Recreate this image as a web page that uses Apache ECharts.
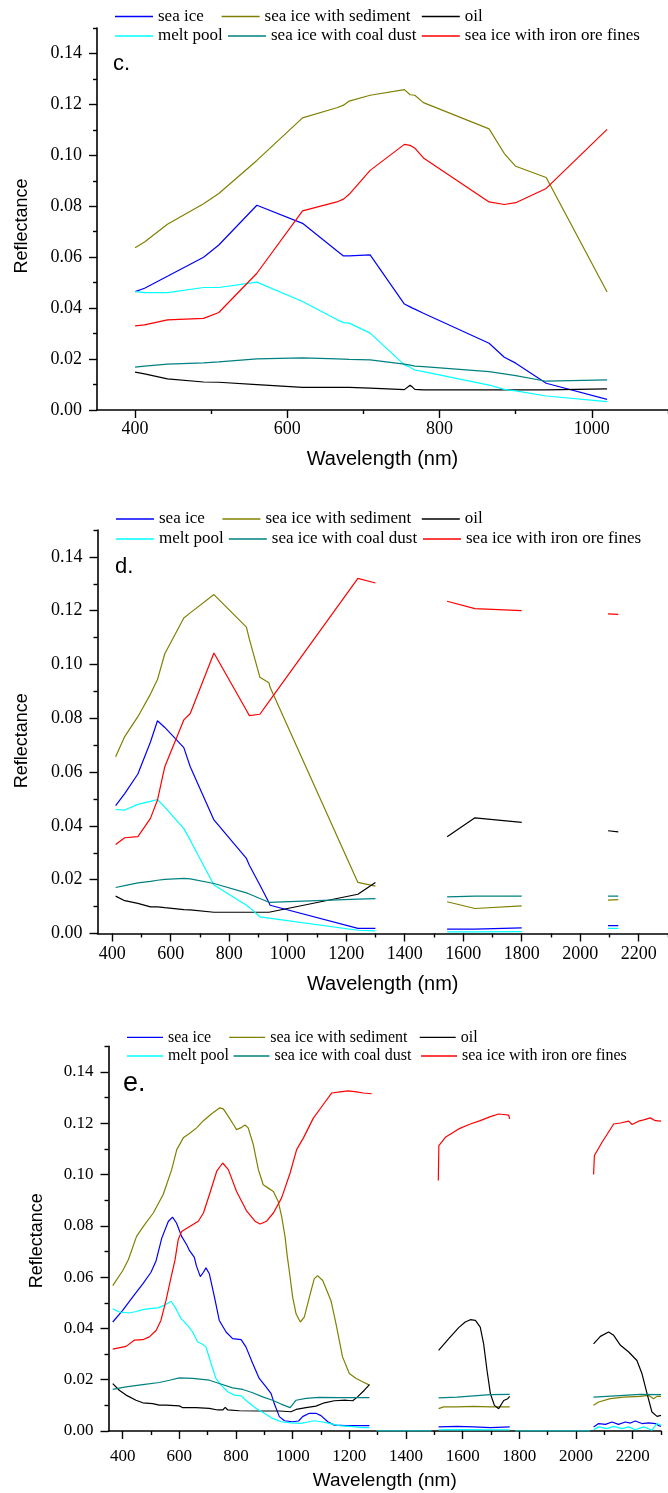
<!DOCTYPE html>
<html><head><meta charset="utf-8">
<script src="https://cdn.jsdelivr.net/npm/echarts@6/dist/echarts.min.js"></script>
<style>html,body{margin:0;padding:0;background:#fff}#c{width:668px;height:1493px}</style>
</head><body><div id="c"></div>
<script>
const seriesNames = ['sea ice','sea ice with sediment','oil','melt pool','sea ice with coal dust','sea ice with iron ore fines'];
const seriesColors = ['#0000ff','#808000','#000000','#00ffff','#008080','#ff0000'];

// ---- axis ticks ----
const yMajor = [0,0.02,0.04,0.06,0.08,0.10,0.12,0.14];
const yMinor = [0.01,0.03,0.05,0.07,0.09,0.11,0.13,0.15];
const cXMajor = [400,600,800,1000];
const cXMinor = [500,700,900,1100];
const dXMajor = [400,600,800,1000,1200,1400,1600,1800,2000,2200];
const dXMinor = [500,700,900,1100,1300,1500,1700,1900,2100,2300];

// ---- panel c ----
const cWave = [400,412.5,442.5,490,510,560,620,665,673.75,681.25,708.75,753.75,761.25,764.375,767.5,778.75,865,885,900,940,1020];
const cSeaIce = [0.0465,0.0478,0.0525,0.0600,0.0648,0.0804,0.0733,0.0625,0.0605,0.0605,0.0609,0.0416,0.0405,0.0400,0.0396,0.0380,0.0262,0.0207,0.0184,0.0105,0.0042];
const cSediment = [0.0637,0.0660,0.0729,0.0810,0.0850,0.0980,0.1147,0.1187,0.1197,0.1213,0.1236,0.1258,0.1238,0.1237,0.1236,0.1207,0.1104,0.1007,0.0957,0.0913,0.0463];
const cOil = [0.0149,0.0142,0.0122,0.0110,0.0109,0.0100,0.0089,0.0089,0.0089,0.0089,0.0086,0.0080,0.0097,0.0090,0.0081,0.0079,0.0079,0.0079,0.0079,0.0079,0.0083];
const cMeltPool = [0.0465,0.0461,0.0461,0.0481,0.0481,0.0502,0.0426,0.0355,0.0343,0.0341,0.0302,0.0177,0.0168,0.0162,0.0157,0.0151,0.0098,0.0081,0.0075,0.0055,0.0033];
const cCoal = [0.0168,0.0172,0.0180,0.0185,0.0189,0.0201,0.0205,0.0201,0.0200,0.0199,0.0197,0.0180,0.0176,0.0174,0.0172,0.0170,0.0151,0.0142,0.0135,0.0113,0.0118];
const cIron = [0.0330,0.0334,0.0354,0.0360,0.0383,0.0537,0.0782,0.0817,0.0828,0.0847,0.0941,0.1043,0.1039,0.1034,0.1028,0.0990,0.0817,0.0807,0.0814,0.0870,0.1102];

// ---- panel d (null = gap) ----
const dWave = [412,443,488,531,555,580,645,667,748,859,869,905,936,940,1240,1300,1420,1545,1640,1800,1950,2095,2130];
const dSeaIce = [0.0475,0.0520,0.0593,0.0712,0.0791,0.0766,0.0691,0.0620,0.0422,0.0279,0.0254,0.0180,0.0115,0.0105,0.0019,0.0019,null,0.0016,0.0016,0.0021,null,0.0029,0.0029];
const dSediment = [0.0657,0.0732,0.0806,0.0890,0.0944,0.1040,0.1173,0.1192,0.1260,0.1139,0.1094,0.0953,0.0932,0.0915,0.0190,0.0176,null,0.0118,0.0093,0.0103,null,0.0124,0.0126];
const dOil = [0.0139,0.0122,0.0112,0.0099,0.0099,0.0096,0.0089,0.0088,0.0079,0.0079,0.0079,0.0079,0.0079,0.0079,0.0146,0.0190,null,0.0360,0.0430,0.0413,null,0.0382,0.0378];
const dMeltPool = [0.0461,0.0459,0.0480,0.0491,0.0498,0.0470,0.0390,0.0347,0.0180,0.0105,0.0097,0.0062,0.0057,0.0056,0.0012,0.0010,null,0.0006,0.0006,0.0007,null,0.0019,0.0019];
const dCoal = [0.0171,0.0178,0.0188,0.0194,0.0198,0.0201,0.0205,0.0203,0.0186,0.0151,0.0147,0.0130,0.0116,0.0114,0.0128,0.0130,null,0.0136,0.0139,0.0139,null,0.0139,0.0139];
const dIron = [0.0331,0.0356,0.0360,0.0428,0.0496,0.0620,0.0794,0.0818,0.1043,0.0830,0.0810,0.0815,0.0862,0.0868,0.1320,0.1303,null,0.1235,0.1208,0.1200,null,0.1188,0.1186];

// ---- panel e ([wavelength, reflectance], null = gap) ----
const eSeaIce = [[365,0.0425],[400,0.047],[435,0.0522],[471,0.0574],[500,0.0619],[518,0.0664],[538,0.0752],[561,0.0817],[576,0.0834],[590,0.0811],[608,0.0759],[626,0.0726],[636,0.0703],[653,0.0677],[660,0.0645],[674,0.0602],[685,0.0619],[694,0.0636],[706,0.0613],[724,0.0522],[741,0.0431],[765,0.0386],[788,0.036],[818,0.0356],[835,0.0328],[859,0.0263],[882,0.0205],[906,0.0172],[924,0.0146],[935,0.0107],[953,0.0056],[971,0.004],[1000,0.0036],[1021,0.0039],[1035,0.0056],[1059,0.0069],[1082,0.0069],[1100,0.006],[1124,0.0036],[1147,0.0023],[1188,0.0021],[1235,0.0021],[1271,0.0021],
 [1400,null],[1515,0.0016],[1580,0.0018],[1639,0.0016],[1698,0.0013],[1766,0.0016],
 [1900,null],[2062,0.0016],[2080,0.0029],[2104,0.0026],[2127,0.0035],[2150,0.0026],[2174,0.0035],[2192,0.0031],[2209,0.0039],[2233,0.0029],[2256,0.0032],[2280,0.0029],[2290,0.0022],[2300,0.0018]];
const eSediment = [[365,0.0567],[400,0.0625],[420,0.0668],[449,0.0759],[473,0.0798],[508,0.085],[543,0.0922],[573,0.1019],[591,0.1097],[614,0.1143],[638,0.1162],[661,0.1182],[685,0.121],[714,0.1237],[743,0.126],[755,0.1256],[773,0.1227],[791,0.1195],[802,0.1175],[820,0.1184],[832,0.1193],[843,0.1182],[861,0.1117],[879,0.1019],[896,0.096],[914,0.0947],[932,0.0934],[949,0.0895],[961,0.0837],[973,0.0759],[981,0.0681],[988,0.0625],[1000,0.0522],[1012,0.0457],[1027,0.0425],[1041,0.0444],[1059,0.0522],[1076,0.0593],[1088,0.0606],[1106,0.0587],[1135,0.0509],[1153,0.0418],[1176,0.0289],[1200,0.0224],[1224,0.0205],[1247,0.0192],[1271,0.0179],
 [1400,null],[1515,0.0087],[1533,0.0094],[1580,0.0094],[1639,0.0096],[1698,0.0094],[1766,0.0094],
 [1900,null],[2062,0.01],[2080,0.0113],[2121,0.0126],[2168,0.0132],[2227,0.0135],[2256,0.0139],[2274,0.0126],[2286,0.0135],[2300,0.0135]];
const eOil = [[365,0.0185],[388,0.0159],[412,0.014],[447,0.012],[471,0.011],[506,0.0107],[529,0.0101],[553,0.0101],[600,0.0098],[612,0.0091],[659,0.0091],[706,0.0088],[735,0.0082],[753,0.0082],[762,0.0092],[771,0.0082],[812,0.0079],[882,0.0078],[953,0.0078],[994,0.0075],[1012,0.0084],[1047,0.0091],[1082,0.0097],[1112,0.011],[1147,0.0118],[1188,0.012],[1212,0.0118],[1229,0.0133],[1253,0.0159],[1271,0.0181],
 [1400,null],[1515,0.0314],[1551,0.036],[1586,0.0403],[1609,0.0425],[1627,0.0434],[1645,0.0431],[1662,0.0405],[1674,0.034],[1686,0.0236],[1698,0.0145],[1712,0.01],[1727,0.0087],[1745,0.0119],[1759,0.0126],[1766,0.0135],
 [1900,null],[2062,0.034],[2086,0.0369],[2115,0.0386],[2133,0.0373],[2157,0.0334],[2186,0.0308],[2215,0.0275],[2233,0.0223],[2251,0.0145],[2268,0.0074],[2286,0.0057],[2300,0.0061]];
const eMeltPool = [[365,0.0477],[388,0.0464],[424,0.046],[447,0.0466],[471,0.0473],[494,0.0477],[524,0.048],[547,0.049],[571,0.0506],[588,0.0477],[606,0.0438],[629,0.0412],[647,0.0386],[665,0.0347],[682,0.0338],[694,0.0328],[712,0.0263],[729,0.0205],[747,0.0179],[771,0.0153],[794,0.014],[818,0.0137],[841,0.0114],[871,0.0088],[900,0.0069],[929,0.0049],[959,0.0036],[994,0.0032],[1029,0.003],[1053,0.0035],[1076,0.004],[1100,0.0036],[1129,0.003],[1165,0.0021],[1212,0.0017],[1247,0.0013],[1271,0.0013],
 [1283,null],[1295,0],[1490,0],[1502,null],[1515,0.0004],[1600,0.0005],[1700,0.0004],[1766,0.0004],
 [1775,null],[1785,0],[2050,0],[2056,null],[2062,0.0005],[2080,0.0016],[2109,0.0009],[2133,0.0018],[2162,0.0009],[2186,0.0016],[2209,0.0005],[2239,0.0016],[2268,0.0003],[2286,0.0029],[2300,0.0022]];
const eCoal = [[365,0.0162],[412,0.0172],[471,0.0181],[529,0.0189],[565,0.0198],[600,0.0207],[647,0.0205],[706,0.0198],[741,0.0185],[788,0.0168],[824,0.0162],[859,0.0149],[894,0.0133],[929,0.012],[959,0.0105],[991,0.0091],[998,0.0095],[1012,0.012],[1047,0.0127],[1094,0.0131],[1165,0.013],[1224,0.013],[1271,0.013],
 [1400,null],[1515,0.0129],[1580,0.0132],[1698,0.0142],[1766,0.0143],
 [1900,null],[2062,0.0132],[2168,0.0139],[2227,0.0143],[2300,0.0142]];
const eIron = [[365,0.0319],[412,0.033],[441,0.0354],[471,0.0356],[494,0.0367],[518,0.0392],[535,0.0431],[553,0.0509],[571,0.06],[585,0.0668],[596,0.0746],[608,0.0778],[638,0.0798],[667,0.0818],[685,0.085],[708,0.0928],[732,0.1013],[753,0.1045],[773,0.1019],[802,0.0934],[838,0.0857],[867,0.0818],[885,0.0807],[908,0.0818],[932,0.085],[961,0.0909],[991,0.1006],[1014,0.1097],[1038,0.1143],[1073,0.122],[1108,0.1273],[1138,0.1318],[1167,0.1322],[1196,0.1326],[1226,0.1322],[1249,0.1318],[1279,0.1315],
 [1400,null],[1514,0.0977],[1516,0.1113],[1539,0.1145],[1586,0.1178],[1627,0.1197],[1662,0.121],[1698,0.1226],[1727,0.1236],[1745,0.1234],[1762,0.1232],[1766,0.1217],
 [1900,null],[2062,0.1],[2065,0.1074],[2092,0.1126],[2133,0.1197],[2157,0.1201],[2186,0.1208],[2198,0.1195],[2221,0.1208],[2239,0.1213],[2262,0.1221],[2280,0.121],[2300,0.1208]];

function zipPairs(xs, ys){ return xs.map((x,i)=>[x, ys[i]===null?'-':ys[i]]); }
function fixPairs(p){ return p.map(d=>[d[0], d[1]===null?'-':d[1]]); }

const panels = [
  { grid:{left:97,top:28,width:581,height:382}, xmin:350, xmax:1100, xMajor:cXMajor, xMinor:cXMinor,
    data:[zipPairs(cWave,cSeaIce),zipPairs(cWave,cSediment),zipPairs(cWave,cOil),zipPairs(cWave,cMeltPool),zipPairs(cWave,cCoal),zipPairs(cWave,cIron)],
    label:'c.', labelPos:{left:113,top:53}, labelSize:22, tickFont:18, nameFont:20, nameGap:39, yNameGap:66, yPad:14, labMargin:10,
    legendFont:17, legendW:38, rows:[8,27.5], cols:[[115,221.6,421.8],[115,228,421.8]] },
  { grid:{left:97.5,top:530,width:577,height:403.5}, xmin:350, xmax:2300, xMajor:dXMajor, xMinor:dXMinor,
    data:[zipPairs(dWave,dSeaIce),zipPairs(dWave,dSediment),zipPairs(dWave,dOil),zipPairs(dWave,dMeltPool),zipPairs(dWave,dCoal),zipPairs(dWave,dIron)],
    label:'d.', labelPos:{left:115,top:556}, labelSize:22, tickFont:18, nameFont:20, nameGap:41, yNameGap:66, yPad:18, labMargin:12,
    legendFont:17, legendW:38, rows:[510.5,530.5], cols:[[116,222.4,421.8],[116,228.8,423]] },
  { grid:{left:108.5,top:1046.3,width:552.5,height:384.7}, xmin:350, xmax:2300, xMajor:dXMajor, xMinor:dXMinor,
    data:[fixPairs(eSeaIce),fixPairs(eSediment),fixPairs(eOil),fixPairs(eMeltPool),fixPairs(eCoal),fixPairs(eIron)],
    label:'e.', labelPos:{left:123,top:1070}, labelSize:27, tickFont:17, nameFont:19, nameGap:40, yNameGap:62, yPad:4, labMargin:17,
    legendFont:16, legendW:36, rows:[1029.3,1048], cols:[[127,229.2,419.7],[127,233.5,421]] }
];

const option = { animation:false, backgroundColor:'#fff', grid:[], xAxis:[], yAxis:[], series:[], legend:[], title:[] };
const serif = 'Liberation Serif', sans = 'Liberation Sans';

panels.forEach((p, i) => {
  option.grid.push(Object.assign({containLabel:false}, p.grid));
  option.xAxis.push({
    type:'value', gridIndex:i, min:p.xmin, max:p.xmax, position:'bottom',
    name:'Wavelength (nm)', nameLocation:'middle', nameGap:p.nameGap,
    nameTextStyle:{fontFamily:sans, fontSize:p.nameFont, color:'#000'},
    axisLine:{show:true, onZero:false, lineStyle:{color:'#000', width:1.6}},
    axisTick:{show:true, length:8, lineStyle:{color:'#000', width:1.4}, customValues:p.xMajor},
    axisLabel:{show:true, customValues:p.xMajor, margin:p.labMargin, fontFamily:serif, fontSize:p.tickFont, color:'#000',
      formatter:v=>String(Math.round(v))},
    splitLine:{show:false}
  });
  option.xAxis.push({
    type:'value', gridIndex:i, min:p.xmin, max:p.xmax, position:'bottom', offset:0,
    axisLine:{show:false, onZero:false},
    axisTick:{show:true, length:4, lineStyle:{color:'#000', width:1.4}, customValues:p.xMinor},
    axisLabel:{show:false}, splitLine:{show:false}
  });
  option.yAxis.push({
    type:'value', gridIndex:i, min:0, max:0.15, position:'left',
    name:'Reflectance', nameLocation:'middle', nameGap:p.yNameGap,
    nameTextStyle:{fontFamily:sans, fontSize:18, color:'#000', padding:[0,p.yPad,0,0]},
    axisLine:{show:true, onZero:false, lineStyle:{color:'#000', width:1.6}},
    axisTick:{show:true, length:8, lineStyle:{color:'#000', width:1.4}, customValues:yMajor},
    axisLabel:{show:true, customValues:yMajor, margin:15, fontFamily:serif, fontSize:p.tickFont, color:'#000',
      formatter:v=>Number(v).toFixed(2)},
    splitLine:{show:false}
  });
  option.yAxis.push({
    type:'value', gridIndex:i, min:0, max:0.15, position:'left', offset:0,
    axisLine:{show:false, onZero:false},
    axisTick:{show:true, length:4, lineStyle:{color:'#000', width:1.4}, customValues:yMinor},
    axisLabel:{show:false}, splitLine:{show:false}
  });
  p.data.forEach((d, k) => {
    option.series.push({
      type:'line', name:seriesNames[k], xAxisIndex:2*i, yAxisIndex:2*i, data:d,
      symbol:'none', showSymbol:false, connectNulls:false, smooth:false,
      lineStyle:{color:seriesColors[k], width:1.2}, itemStyle:{color:seriesColors[k]},
      emphasis:{disabled:true}, z:2
    });
  });
  for (let r = 0; r < 2; r++) {
    for (let c = 0; c < 3; c++) {
      const name = seriesNames[r*3 + c];
      option.legend.push({
        data:[{name:name, icon:'rect'}], left:p.cols[r][c], top:p.rows[r], padding:0, orient:'horizontal',
        itemWidth:p.legendW, itemHeight:1.3, selectedMode:false,
        itemStyle:{color:seriesColors[r*3 + c], borderWidth:0},
        textStyle:{fontFamily:serif, fontSize:p.legendFont, color:'#000', padding:[0,0,0,0]}
      });
    }
  }
  option.title.push({
    text:p.label, left:p.labelPos.left, top:p.labelPos.top, padding:0,
    textStyle:{fontFamily:sans, fontSize:p.labelSize, fontWeight:'normal', color:'#000'}
  });
});

const chart = echarts.init(document.getElementById('c'), null, {renderer:'canvas', width:668, height:1493});
chart.setOption(option);
</script>
</body></html>
